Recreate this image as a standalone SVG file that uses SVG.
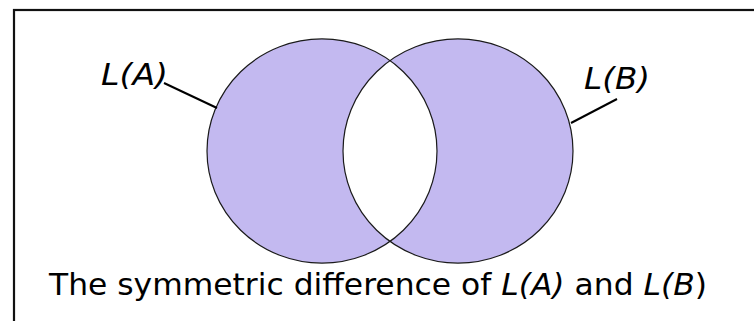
<svg xmlns="http://www.w3.org/2000/svg" width="754" height="321" viewBox="0 0 754 321">
  <style>
    .frame { fill: none; stroke: #111; stroke-width: 2.2; }
    .set { fill: #c3b9f0; fill-rule: evenodd; stroke: #1a1a1a; stroke-width: 1.2; }
    .lead { stroke: #000; stroke-width: 2; fill: none; }
    .lbl { font-family: "DejaVu Sans", Verdana, sans-serif; font-size: 30px; fill: #000; }
    .it { font-style: italic; }
  </style>
  <rect width="754" height="321" fill="#fff"/>
  <rect class="frame" x="14" y="10" width="780" height="340"/>
  <g id="venn">
    <path class="set" d="M207,151 A115,112 0 1,0 437,151 A115,112 0 1,0 207,151 Z M343,151 A115,112 0 1,0 573,151 A115,112 0 1,0 343,151 Z"/>
  </g>
  <g id="connectors">
    <line class="lead" x1="164" y1="83" x2="217" y2="108"/>
    <line class="lead" x1="617" y1="99" x2="571" y2="123"/>
  </g>
  <g id="labelA">
    <text class="lbl it" x="101" y="85" textLength="67" lengthAdjust="spacingAndGlyphs">L(A)</text>
  </g>
  <g id="labelB">
    <text class="lbl it" x="584" y="89" textLength="66" lengthAdjust="spacingAndGlyphs">L(B)</text>
  </g>
  <g id="caption">
    <text class="lbl" x="49" y="295" textLength="658" lengthAdjust="spacingAndGlyphs">The symmetric difference of <tspan class="it">L(A)</tspan> and <tspan class="it">L(B</tspan>)</text>
  </g>
</svg>
